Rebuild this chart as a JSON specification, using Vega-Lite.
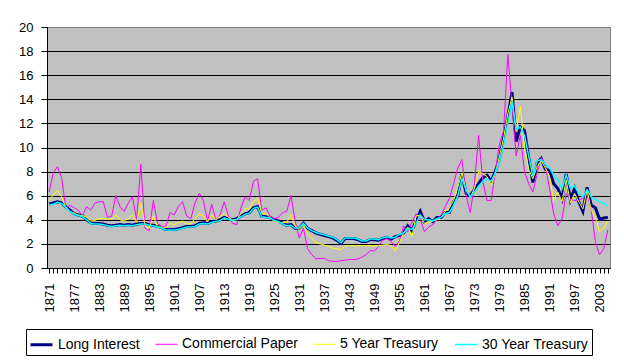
{
  "$schema": "https://vega.github.io/schema/vega-lite/v6.json",
  "width": 563,
  "height": 241,
  "autosize": {"type": "none"},
  "padding": {"left": 47, "top": 27, "right": 14, "bottom": 94},
  "background": "white",
  "config": {
    "font": "Liberation Sans",
    "view": {"fill": "#C0C0C0", "stroke": "#808080", "strokeWidth": 1},
    "legend": {
      "strokeColor": "black",
      "fillColor": "white",
      "padding": 3,
      "labelFont": "Liberation Sans",
      "labelFontSize": 14,
      "labelColor": "black",
      "symbolType": "stroke",
      "symbolSize": 484,
      "labelOffset": 4,
      "columnPadding": 13
    }
  },
  "data": {
    "values": [
      {"year": 1871, "li": 5.3, "cp": 6.3, "y5": 5.6, "y30": 5.25},
      {"year": 1872, "li": 5.4, "cp": 7.9, "y5": 6.05, "y30": 5.3},
      {"year": 1873, "li": 5.5, "cp": 8.4, "y5": 6.45, "y30": 5.45},
      {"year": 1874, "li": 5.4, "cp": 7.5, "y5": 5.9, "y30": 5.35},
      {"year": 1875, "li": 5.1, "cp": 5.0, "y5": 5.0, "y30": 5.05},
      {"year": 1876, "li": 4.8, "cp": 5.2, "y5": 4.7, "y30": 4.7},
      {"year": 1877, "li": 4.5, "cp": 5.0, "y5": 4.55, "y30": 4.45},
      {"year": 1878, "li": 4.4, "cp": 4.8, "y5": 4.4, "y30": 4.35},
      {"year": 1879, "li": 4.3, "cp": 4.3, "y5": 4.35, "y30": 4.25},
      {"year": 1880, "li": 4.0, "cp": 5.1, "y5": 4.2, "y30": 4.0},
      {"year": 1881, "li": 3.75, "cp": 4.8, "y5": 3.9, "y30": 3.7},
      {"year": 1882, "li": 3.7, "cp": 5.4, "y5": 3.95, "y30": 3.65},
      {"year": 1883, "li": 3.7, "cp": 5.5, "y5": 4.1, "y30": 3.65},
      {"year": 1884, "li": 3.65, "cp": 5.5, "y5": 4.1, "y30": 3.6},
      {"year": 1885, "li": 3.55, "cp": 4.2, "y5": 4.05, "y30": 3.5},
      {"year": 1886, "li": 3.5, "cp": 4.3, "y5": 4.05, "y30": 3.45},
      {"year": 1887, "li": 3.55, "cp": 6.0, "y5": 4.4, "y30": 3.5},
      {"year": 1888, "li": 3.6, "cp": 5.1, "y5": 4.0, "y30": 3.55},
      {"year": 1889, "li": 3.55, "cp": 4.7, "y5": 3.9, "y30": 3.5},
      {"year": 1890, "li": 3.6, "cp": 5.4, "y5": 4.1, "y30": 3.55},
      {"year": 1891, "li": 3.55, "cp": 5.9, "y5": 4.4, "y30": 3.5},
      {"year": 1892, "li": 3.65, "cp": 4.0, "y5": 3.8, "y30": 3.6},
      {"year": 1893, "li": 3.7, "cp": 8.6, "y5": 5.4, "y30": 3.65},
      {"year": 1894, "li": 3.7, "cp": 3.3, "y5": 3.5, "y30": 3.65},
      {"year": 1895, "li": 3.6, "cp": 3.1, "y5": 3.3, "y30": 3.55},
      {"year": 1896, "li": 3.55, "cp": 5.6, "y5": 4.3, "y30": 3.5},
      {"year": 1897, "li": 3.45, "cp": 3.7, "y5": 3.4, "y30": 3.4},
      {"year": 1898, "li": 3.35, "cp": 3.45, "y5": 3.4, "y30": 3.3},
      {"year": 1899, "li": 3.2, "cp": 3.45, "y5": 3.35, "y30": 3.15},
      {"year": 1900, "li": 3.2, "cp": 4.6, "y5": 3.7, "y30": 3.15},
      {"year": 1901, "li": 3.2, "cp": 4.4, "y5": 3.6, "y30": 3.15},
      {"year": 1902, "li": 3.25, "cp": 5.1, "y5": 3.75, "y30": 3.2},
      {"year": 1903, "li": 3.35, "cp": 5.5, "y5": 3.9, "y30": 3.3},
      {"year": 1904, "li": 3.45, "cp": 4.3, "y5": 3.65, "y30": 3.4},
      {"year": 1905, "li": 3.45, "cp": 4.1, "y5": 3.7, "y30": 3.4},
      {"year": 1906, "li": 3.5, "cp": 5.4, "y5": 4.1, "y30": 3.45},
      {"year": 1907, "li": 3.7, "cp": 6.2, "y5": 4.5, "y30": 3.65},
      {"year": 1908, "li": 3.75, "cp": 5.6, "y5": 4.3, "y30": 3.7},
      {"year": 1909, "li": 3.7, "cp": 3.9, "y5": 3.85, "y30": 3.65},
      {"year": 1910, "li": 3.85, "cp": 5.3, "y5": 4.4, "y30": 3.8},
      {"year": 1911, "li": 3.9, "cp": 4.0, "y5": 4.0, "y30": 3.85},
      {"year": 1912, "li": 4.0, "cp": 4.4, "y5": 4.3, "y30": 3.95},
      {"year": 1913, "li": 4.2, "cp": 5.5, "y5": 4.5, "y30": 4.15},
      {"year": 1914, "li": 4.1, "cp": 4.3, "y5": 4.2, "y30": 4.05},
      {"year": 1915, "li": 4.0, "cp": 3.7, "y5": 4.0, "y30": 3.95},
      {"year": 1916, "li": 4.1, "cp": 3.6, "y5": 4.0, "y30": 4.05},
      {"year": 1917, "li": 4.3, "cp": 5.0, "y5": 4.5, "y30": 4.25},
      {"year": 1918, "li": 4.5, "cp": 5.9, "y5": 4.95, "y30": 4.45},
      {"year": 1919, "li": 4.6, "cp": 5.6, "y5": 4.9, "y30": 4.55},
      {"year": 1920, "li": 5.0, "cp": 7.2, "y5": 5.5, "y30": 4.95},
      {"year": 1921, "li": 5.1, "cp": 7.4, "y5": 5.8, "y30": 5.05},
      {"year": 1922, "li": 4.3, "cp": 4.8, "y5": 4.5, "y30": 4.25},
      {"year": 1923, "li": 4.25, "cp": 5.0, "y5": 4.5, "y30": 4.2},
      {"year": 1924, "li": 4.2, "cp": 4.3, "y5": 4.2, "y30": 4.15},
      {"year": 1925, "li": 4.0, "cp": 4.1, "y5": 3.85, "y30": 3.95},
      {"year": 1926, "li": 3.9, "cp": 4.2, "y5": 3.8, "y30": 3.85},
      {"year": 1927, "li": 3.7, "cp": 4.6, "y5": 3.75, "y30": 3.65},
      {"year": 1928, "li": 3.55, "cp": 4.7, "y5": 3.8, "y30": 3.5},
      {"year": 1929, "li": 3.6, "cp": 6.0, "y5": 4.4, "y30": 3.55},
      {"year": 1930, "li": 3.3, "cp": 3.9, "y5": 3.5, "y30": 3.3},
      {"year": 1931, "li": 3.3, "cp": 2.5, "y5": 3.2, "y30": 3.35},
      {"year": 1932, "li": 3.7, "cp": 3.3, "y5": 3.6, "y30": 3.7},
      {"year": 1933, "li": 3.3, "cp": 1.6, "y5": 2.8, "y30": 3.3},
      {"year": 1934, "li": 3.1, "cp": 1.1, "y5": 2.5, "y30": 3.1},
      {"year": 1935, "li": 2.9, "cp": 0.75, "y5": 2.1, "y30": 2.95},
      {"year": 1936, "li": 2.8, "cp": 0.8, "y5": 2.0, "y30": 2.85},
      {"year": 1937, "li": 2.7, "cp": 0.8, "y5": 1.9, "y30": 2.75},
      {"year": 1938, "li": 2.6, "cp": 0.6, "y5": 1.8, "y30": 2.65},
      {"year": 1939, "li": 2.5, "cp": 0.55, "y5": 1.65, "y30": 2.55},
      {"year": 1940, "li": 2.3, "cp": 0.55, "y5": 1.6, "y30": 2.35},
      {"year": 1941, "li": 2.05, "cp": 0.6, "y5": 1.5, "y30": 2.1},
      {"year": 1942, "li": 2.45, "cp": 0.65, "y5": 1.85, "y30": 2.5},
      {"year": 1943, "li": 2.45, "cp": 0.7, "y5": 1.85, "y30": 2.5},
      {"year": 1944, "li": 2.45, "cp": 0.7, "y5": 1.85, "y30": 2.5},
      {"year": 1945, "li": 2.35, "cp": 0.75, "y5": 1.85, "y30": 2.4},
      {"year": 1946, "li": 2.2, "cp": 0.9, "y5": 1.85, "y30": 2.25},
      {"year": 1947, "li": 2.2, "cp": 1.1, "y5": 1.85, "y30": 2.25},
      {"year": 1948, "li": 2.35, "cp": 1.45, "y5": 1.85, "y30": 2.4},
      {"year": 1949, "li": 2.35, "cp": 1.4, "y5": 1.85, "y30": 2.4},
      {"year": 1950, "li": 2.3, "cp": 1.8, "y5": 1.85, "y30": 2.35},
      {"year": 1951, "li": 2.45, "cp": 2.3, "y5": 1.9, "y30": 2.5},
      {"year": 1952, "li": 2.55, "cp": 2.45, "y5": 1.95, "y30": 2.6},
      {"year": 1953, "li": 2.4, "cp": 2.2, "y5": 1.85, "y30": 2.5},
      {"year": 1954, "li": 2.6, "cp": 1.8, "y5": 1.4, "y30": 2.55},
      {"year": 1955, "li": 2.7, "cp": 2.2, "y5": 2.1, "y30": 2.8},
      {"year": 1956, "li": 2.9, "cp": 3.5, "y5": 2.9, "y30": 2.9},
      {"year": 1957, "li": 3.5, "cp": 3.0, "y5": 3.4, "y30": 3.3},
      {"year": 1958, "li": 3.1, "cp": 3.8, "y5": 2.6, "y30": 3.2},
      {"year": 1959, "li": 3.9, "cp": 4.5, "y5": 4.3, "y30": 3.7},
      {"year": 1960, "li": 4.7, "cp": 4.1, "y5": 4.4, "y30": 4.4},
      {"year": 1961, "li": 3.85, "cp": 3.0, "y5": 3.7, "y30": 4.0},
      {"year": 1962, "li": 4.1, "cp": 3.4, "y5": 3.8, "y30": 4.0},
      {"year": 1963, "li": 3.85, "cp": 3.6, "y5": 3.9, "y30": 3.9},
      {"year": 1964, "li": 4.2, "cp": 4.0, "y5": 4.0, "y30": 4.1},
      {"year": 1965, "li": 4.2, "cp": 4.4, "y5": 4.2, "y30": 4.2},
      {"year": 1966, "li": 4.6, "cp": 5.1, "y5": 4.7, "y30": 4.5},
      {"year": 1967, "li": 4.6, "cp": 5.8, "y5": 5.0, "y30": 4.6},
      {"year": 1968, "li": 5.5, "cp": 7.0, "y5": 5.6, "y30": 5.2},
      {"year": 1969, "li": 6.0, "cp": 8.3, "y5": 6.7, "y30": 6.0},
      {"year": 1970, "li": 7.8, "cp": 9.0, "y5": 7.9, "y30": 7.4},
      {"year": 1971, "li": 6.2, "cp": 6.0, "y5": 6.4, "y30": 6.5},
      {"year": 1972, "li": 6.0, "cp": 4.6, "y5": 5.9, "y30": 5.9},
      {"year": 1973, "li": 6.5, "cp": 7.0, "y5": 6.6, "y30": 6.3},
      {"year": 1974, "li": 7.0, "cp": 11.0, "y5": 8.0, "y30": 6.8},
      {"year": 1975, "li": 7.5, "cp": 7.2, "y5": 7.8, "y30": 7.2},
      {"year": 1976, "li": 7.7, "cp": 5.6, "y5": 7.6, "y30": 7.4},
      {"year": 1977, "li": 7.2, "cp": 5.6, "y5": 6.9, "y30": 7.2},
      {"year": 1978, "li": 8.0, "cp": 8.0, "y5": 7.8, "y30": 7.9},
      {"year": 1979, "li": 9.1, "cp": 10.3, "y5": 9.3, "y30": 8.8},
      {"year": 1980, "li": 10.8, "cp": 11.4, "y5": 10.8, "y30": 10.2},
      {"year": 1981, "li": 12.6, "cp": 17.7, "y5": 12.8, "y30": 12.0},
      {"year": 1982, "li": 14.6, "cp": 13.5, "y5": 14.2, "y30": 13.8},
      {"year": 1983, "li": 10.5, "cp": 9.3, "y5": 11.3, "y30": 11.5},
      {"year": 1984, "li": 11.7, "cp": 11.0, "y5": 13.4, "y30": 11.7},
      {"year": 1985, "li": 11.4, "cp": 8.0, "y5": 10.0, "y30": 11.0},
      {"year": 1986, "li": 9.2, "cp": 7.0, "y5": 8.2, "y30": 9.3},
      {"year": 1987, "li": 7.1, "cp": 6.3, "y5": 7.4, "y30": 7.6},
      {"year": 1988, "li": 8.7, "cp": 7.8, "y5": 8.4, "y30": 8.9},
      {"year": 1989, "li": 9.1, "cp": 9.2, "y5": 8.9, "y30": 9.0},
      {"year": 1990, "li": 8.2, "cp": 8.5, "y5": 8.3, "y30": 8.6},
      {"year": 1991, "li": 8.1, "cp": 6.6, "y5": 7.6, "y30": 8.3},
      {"year": 1992, "li": 7.0, "cp": 4.5, "y5": 5.6, "y30": 7.7},
      {"year": 1993, "li": 6.6, "cp": 3.5, "y5": 6.3, "y30": 7.3},
      {"year": 1994, "li": 5.75, "cp": 4.1, "y5": 5.5, "y30": 6.6},
      {"year": 1995, "li": 7.8, "cp": 6.2, "y5": 7.3, "y30": 7.7},
      {"year": 1996, "li": 5.65, "cp": 5.7, "y5": 5.4, "y30": 6.6},
      {"year": 1997, "li": 6.6, "cp": 5.6, "y5": 6.2, "y30": 6.8},
      {"year": 1998, "li": 5.5, "cp": 5.6, "y5": 5.5, "y30": 6.2},
      {"year": 1999, "li": 4.7, "cp": 5.8, "y5": 4.9, "y30": 5.9},
      {"year": 2000, "li": 6.7, "cp": 6.2, "y5": 6.5, "y30": 6.5},
      {"year": 2001, "li": 5.2, "cp": 4.8, "y5": 4.8, "y30": 5.9},
      {"year": 2002, "li": 5.0, "cp": 2.2, "y5": 4.2, "y30": 5.7},
      {"year": 2003, "li": 4.05, "cp": 1.1, "y5": 3.0, "y30": 5.5},
      {"year": 2004, "li": 4.15, "cp": 1.6, "y5": 3.3, "y30": 5.4},
      {"year": 2005, "li": 4.2, "cp": 3.2, "y5": 3.9, "y30": 5.1}
    ]
  },
  "transform": [{"fold": ["li", "cp", "y5", "y30"], "as": ["series", "rate"]}],
  "mark": {"type": "line", "clip": true, "strokeJoin": "miter"},
  "encoding": {
    "x": {
      "field": "year",
      "type": "quantitative",
      "scale": {"domain": [1870.5, 2005.5], "nice": false, "zero": false},
      "axis": {
        "title": null,
        "values": [1871,1872,1873,1874,1875,1876,1877,1878,1879,1880,1881,1882,1883,1884,1885,1886,1887,1888,1889,1890,1891,1892,1893,1894,1895,1896,1897,1898,1899,1900,1901,1902,1903,1904,1905,1906,1907,1908,1909,1910,1911,1912,1913,1914,1915,1916,1917,1918,1919,1920,1921,1922,1923,1924,1925,1926,1927,1928,1929,1930,1931,1932,1933,1934,1935,1936,1937,1938,1939,1940,1941,1942,1943,1944,1945,1946,1947,1948,1949,1950,1951,1952,1953,1954,1955,1956,1957,1958,1959,1960,1961,1962,1963,1964,1965,1966,1967,1968,1969,1970,1971,1972,1973,1974,1975,1976,1977,1978,1979,1980,1981,1982,1983,1984,1985,1986,1987,1988,1989,1990,1991,1992,1993,1994,1995,1996,1997,1998,1999,2000,2001,2002,2003,2004,2005],
        "format": "d",
        "labelExpr": "(datum.value - 1871) % 6 == 0 ? datum.label : ''",
        "labelAngle": -90,
        "labelFont": "Liberation Sans",
        "labelFontSize": 13,
        "labelColor": "black",
        "labelPadding": 10,
        "labelOverlap": false,
        "labelFlush": false,
        "labelBound": false,
        "tickSize": 5,
        "tickColor": "black",
        "domainColor": "black",
        "grid": false
      }
    },
    "y": {
      "field": "rate",
      "type": "quantitative",
      "scale": {"domain": [0, 20], "nice": false},
      "axis": {
        "title": null,
        "values": [0, 2, 4, 6, 8, 10, 12, 14, 16, 18, 20],
        "labelFont": "Liberation Sans",
        "labelFontSize": 13,
        "labelColor": "black",
        "labelPadding": 8,
        "tickSize": 6,
        "tickColor": "black",
        "domainColor": "black",
        "grid": true,
        "gridColor": {"condition": {"test": "datum.value == 20", "value": "#808080"}, "value": "black"},
        "gridOpacity": 1
      }
    },
    "color": {
      "field": "series",
      "type": "nominal",
      "scale": {"domain": ["li", "cp", "y5", "y30"], "range": ["#000080", "#FF00FF", "#FFFF00", "#00FFFF"]},
      "legend": {
        "title": null,
        "orient": "none",
        "legendX": -21,
        "legendY": 302,
        "direction": "horizontal",
        "labelExpr": "datum.label == 'li' ? 'Long Interest' : datum.label == 'cp' ? 'Commercial Paper' : datum.label == 'y5' ? '5 Year Treasury' : '30 Year Treasury'"
      }
    },
    "strokeWidth": {
      "field": "series",
      "type": "nominal",
      "scale": {"type": "ordinal", "domain": ["li", "cp", "y5", "y30"], "range": [3, 1, 1, 1.5]},
      "legend": {
        "title": null,
        "orient": "none",
        "legendX": -21,
        "legendY": 302,
        "direction": "horizontal",
        "labelExpr": "datum.label == 'li' ? 'Long Interest' : datum.label == 'cp' ? 'Commercial Paper' : datum.label == 'y5' ? '5 Year Treasury' : '30 Year Treasury'"
      }
    }
  }
}
